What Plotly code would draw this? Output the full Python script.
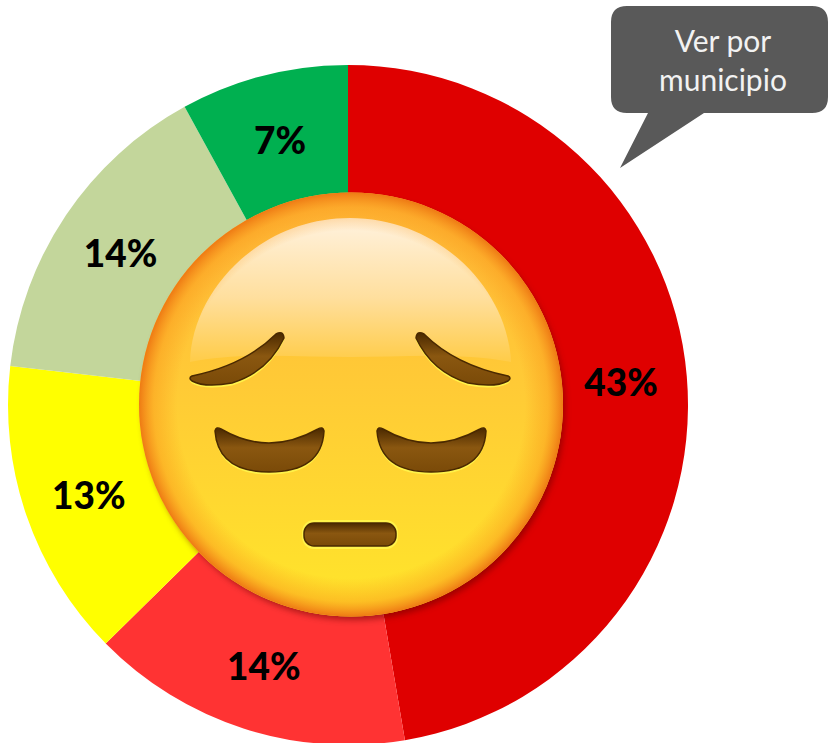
import base64
import plotly.graph_objects as go

categories = ["Muy mal", "Mal", "Regular", "Bien", "Muy bien"]
values = [43.3, 14.0, 13.0, 13.9, 7.3]
labels = ["43%", "14%", "13%", "14%", "7%"]
colors = ["#DF0000", "#FF3333", "#FFFF00", "#C3D69B", "#00B050"]
callout_text = "Ver por<br>municipio"

W, H = 828, 745
px = lambda x: x / W
py = lambda y: 1 - y / H

brow = "M192,376 Q245,365 276,334 Q283,330 284,338 Q268,372 232,383 Q205,388 192,381 Q188,378 192,376Z"
eye = "M215,431 Q216,426 221,429 Q245,443 269,443 Q293,443 318,429 Q323,426 324,431 Q322,472 269,472 Q218,472 215,431Z"

emoji_svg = f'''<svg xmlns="http://www.w3.org/2000/svg" width="460" height="460" viewBox="120 175 460 460">
<defs>
<linearGradient id="base" x1="0" y1="0" x2="0" y2="1">
<stop offset="0" stop-color="#FFB83A"/><stop offset="0.45" stop-color="#FFCA36"/><stop offset="1" stop-color="#FFE62A"/>
</linearGradient>
<radialGradient id="rim" cx="0.5" cy="0.5" r="0.5">
<stop offset="0.82" stop-color="#FA9A1C" stop-opacity="0"/>
<stop offset="0.93" stop-color="#FA9A1C" stop-opacity="0.5"/>
<stop offset="1" stop-color="#EE7A14" stop-opacity="1"/>
</radialGradient>
<linearGradient id="shine" x1="0" y1="0" x2="0" y2="1">
<stop offset="0" stop-color="#FFF2DF"/><stop offset="0.55" stop-color="#FFDF9E"/><stop offset="1" stop-color="#FFCC48"/>
</linearGradient>
<linearGradient id="dark" x1="0" y1="0" x2="0" y2="1">
<stop offset="0" stop-color="#4A2900"/><stop offset="0.45" stop-color="#8A5710"/><stop offset="1" stop-color="#7A4A08"/>
</linearGradient>
<filter id="blur" x="-10%" y="-10%" width="120%" height="120%"><feGaussianBlur stdDeviation="3"/></filter>
</defs>
<circle cx="354" cy="409" r="211" fill="#600000" fill-opacity="0.5" filter="url(#blur)"/>
<circle cx="351" cy="404.5" r="212" fill="url(#base)"/>
<path d="M190,362 C192,290 260,218 350,218 C440,218 508,290 511,362 C460,352 400,357 350,357 C300,357 240,352 190,362Z" fill="url(#shine)"/>
<circle cx="351" cy="404.5" r="212" fill="url(#rim)"/>
<g fill="#FFF24A">
<path d="{brow}" transform="translate(0,2.5)"/>
<path d="{brow}" transform="translate(700,2.5) scale(-1,1)"/>
<path d="{eye}" transform="translate(0,2.5)"/>
<path d="{eye}" transform="translate(162,2.5)"/>
<rect x="302" y="520" width="96" height="29" rx="12"/>
</g>
<g fill="url(#dark)" stroke="#4A2900" stroke-width="1.5">
<path d="{brow}"/>
<path d="{brow}" transform="translate(700,0) scale(-1,1)"/>
<path d="{eye}"/>
<path d="{eye}" transform="translate(162,0)"/>
<rect x="304" y="523" width="92" height="23" rx="10"/>
</g>
</svg>'''
emoji_uri = "data:image/svg+xml;base64," + base64.b64encode(emoji_svg.encode()).decode()

fig = go.Figure(go.Pie(
    labels=categories,
    values=values,
    text=labels,
    textinfo="text",
    textposition="inside",
    insidetextorientation="horizontal",
    textfont=dict(family="Lato", size=37, color="black", weight=900),
    marker=dict(colors=colors, line=dict(width=0)),
    sort=False,
    direction="clockwise",
    rotation=0,
    hole=0.612,
    domain=dict(x=[px(8), px(688)], y=[0, 680 / H]),
    showlegend=False,
    hoverinfo="label+text",
))

r = 16
bubble = (
    f"M{px(611)},{py(6 + r)} Q{px(611)},{py(6)} {px(611 + r)},{py(6)} "
    f"L{px(828 - r)},{py(6)} Q{px(828)},{py(6)} {px(828)},{py(6 + r)} "
    f"L{px(828)},{py(113 - r)} Q{px(828)},{py(113)} {px(828 - r)},{py(113)} "
    f"L{px(704)},{py(113)} L{px(620)},{py(168)} L{px(648)},{py(113)} "
    f"L{px(611 + r)},{py(113)} Q{px(611)},{py(113)} {px(611)},{py(113 - r)} Z"
)

fig.update_layout(
    width=W, height=H, autosize=False,
    margin=dict(l=0, r=0, t=0, b=0, pad=0),
    paper_bgcolor="white",
    shapes=[dict(type="path", xref="paper", yref="paper", path=bubble,
                 fillcolor="#595959", line=dict(width=0), layer="above")],
    images=[dict(source=emoji_uri, xref="paper", yref="paper",
                 x=px(120), y=py(175), sizex=460 / W, sizey=460 / H,
                 xanchor="left", yanchor="top", sizing="stretch", layer="above")],
    annotations=[dict(text=callout_text, xref="paper", yref="paper",
                      x=px(723), y=py(60), xanchor="center", yanchor="middle",
                      showarrow=False, align="center",
                      font=dict(family="Lato", size=30, color="#F2F2F2"))],
)

fig.write_html("out.html", config=dict(displayModeBar=False),
               post_script="document.body.style.margin='0';document.documentElement.style.overflow='hidden';")
